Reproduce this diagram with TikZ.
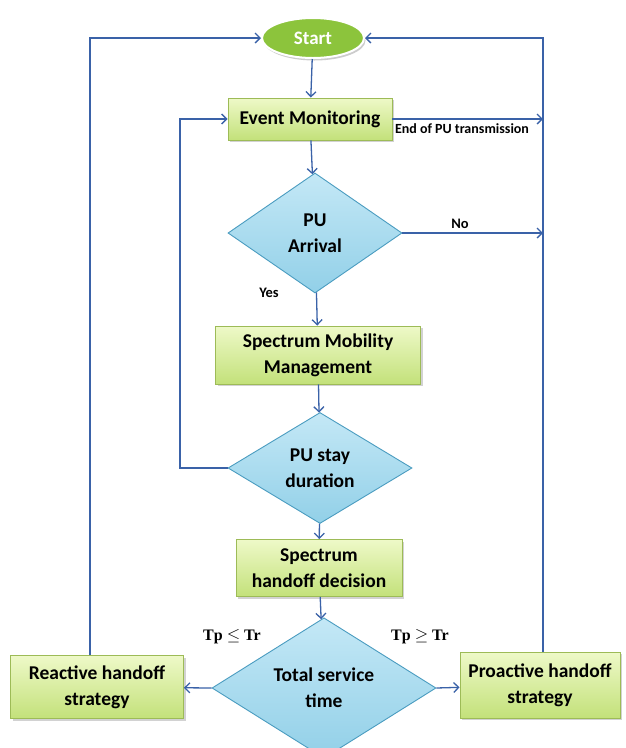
\documentclass[tikz,border=0pt]{standalone}
\usepackage{fontspec}
\setmainfont{Carlito}
\usetikzlibrary{shapes.geometric,arrows.meta,shadows}

\definecolor{linkblue}{HTML}{3A62A8}
\definecolor{boxtop}{HTML}{EEF9C8}
\definecolor{boxbot}{HTML}{C3E17A}
\definecolor{boxedge}{HTML}{9DBB57}
\definecolor{dtop}{HTML}{C4E8F6}
\definecolor{dbot}{HTML}{92D0E8}
\definecolor{dedge}{HTML}{4A9CC0}
\definecolor{startfill}{HTML}{8CC43C}

\tikzset{
  stepbox/.style={rectangle, draw=boxedge, line width=0.9pt,
    top color=boxtop, bottom color=boxbot, align=center,
    font=\fontsize{19.5}{26}\selectfont\bfseries,
    drop shadow={shadow xshift=2pt, shadow yshift=-2pt, opacity=0.35}},
  decide/.style={diamond, draw=dedge, line width=0.9pt,
    top color=dtop, bottom color=dbot, align=center, inner sep=0pt,
    font=\fontsize{19.5}{26}\selectfont\bfseries},
  arr/.style={draw=linkblue, line width=1.3pt,
    -{Straight Barb[length=5pt,width=10pt,line width=1.3pt]}},
  lbl/.style={font=\fontsize{14.5}{17}\selectfont\bfseries, inner sep=1pt},
  cond/.style={inner sep=1pt, font=\fontsize{16}{18}\fontspec{Liberation Serif}\bfseries},
}

\begin{document}
\begin{tikzpicture}[x=1pt,y=-1pt]
\useasboundingbox[fill=white] (0,0) rectangle (625,748);

% start terminal
\node[ellipse, draw=white, line width=2pt, fill=startfill,
      minimum width=102pt, minimum height=40pt, text=white,
      font=\fontsize{19}{22}\selectfont\bfseries,
      drop shadow={shadow xshift=1.5pt, shadow yshift=-2.5pt, opacity=0.4}]
      (start) at (313,38) {Start};

% process steps
\node[stepbox, minimum width=164pt, minimum height=42pt] (em) at (310,119) {Event Monitoring};
\node[decide, minimum width=174pt, minimum height=120pt] (pua) at (315,233) {PU\\Arrival};
\node[stepbox, minimum width=205pt, minimum height=58pt] (smm) at (318,355) {Spectrum Mobility\\Management};
\node[decide, minimum width=184pt, minimum height=111pt] (psd) at (320,468) {PU stay\\duration};
\node[stepbox, minimum width=166pt, minimum height=57pt] (shd) at (319,568) {Spectrum\\handoff decision};
\node[decide, minimum width=224pt, minimum height=120pt] (tst) at (324,688) {Total service\\time};
\node[stepbox, minimum width=173pt, minimum height=63pt] (rhs) at (97,687) {Reactive handoff\\strategy};
\node[stepbox, minimum width=160pt, minimum height=66pt] (phs) at (540,685) {Proactive handoff\\strategy};

% main flow
\draw[arr] (start) -- (em);
\draw[arr] (em) -- (pua);
\draw[arr] (pua) -- (smm);
\draw[arr] (smm) -- (psd);
\draw[arr] (psd) -- (shd);
\draw[arr] (shd) -- (tst);
\draw[arr] (tst.west) -- (rhs);
\draw[arr] (tst.east) -- (phs);

% loop back to monitoring
\coordinate (loopL) at (180,0);
\draw[arr] (psd.west) -- (psd.west -| loopL) -- (em.west -| loopL) -- (em.west);

% right return bus
\coordinate (busR) at (543,0);
\draw[arr] (phs.north -| busR) -- (start.east -| busR) -- (start.east);
\draw[arr] (em.east) -- (em.east -| busR);
\draw[arr] (pua.east) -- (pua.east -| busR);

% left return bus
\coordinate (busL) at (90,0);
\draw[arr] (rhs.north -| busL) -- (start.west -| busL) -- (start.west);

% labels
\node[lbl, font=\fontsize{14}{16}\selectfont\bfseries] (lend) at (462,129) {End of PU transmission};
\node[lbl] (lno) at (460,224) {No};
\node[lbl] (lyes) at (269,293) {Yes};
\node[cond] (lle) at (232,637) {Tp $\leq$ Tr};
\node[cond] (lge) at (420,637) {Tp $\geq$ Tr};
\end{tikzpicture}
\end{document}
